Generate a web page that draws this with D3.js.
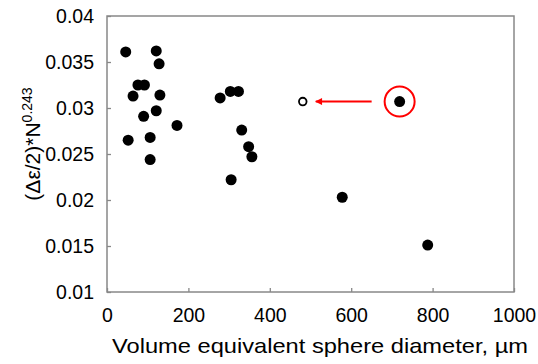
<!DOCTYPE html>
<html>
<head>
<meta charset="utf-8">
<script src="https://cdn.jsdelivr.net/npm/d3@7"></script>
<style>
  body { margin: 0; background: #fff; }
  svg { display: block; font-family: "Liberation Sans", Arial, sans-serif; }
</style>
</head>
<body>
<div id="chart"></div>
<script>
// measured points: sphere diameter (µm) vs (Δε/2)*N^0.243
const diameters = [46, 121, 128, 76, 92, 64, 130, 90, 121, 172, 52, 106, 106,
                   278, 303, 323, 331, 348, 356, 305, 578, 788]
const amplitudes = [0.0361, 0.0362, 0.0348, 0.0325, 0.0325, 0.0313, 0.0314, 0.0291, 0.0297, 0.0281, 0.0265, 0.0268, 0.0244,
                    0.0311, 0.0318, 0.0318, 0.0276, 0.0258, 0.0247, 0.0222, 0.0203, 0.0151]
// the highlighted specimen and where it moves to
const movedFrom = [719, 0.0307]
const movedTo = [481, 0.0307]

const xTicks = [0, 200, 400, 600, 800, 1000]
const yTicks = [0.01, 0.015, 0.02, 0.025, 0.03, 0.035, 0.04]

const width = 538, height = 364
const margin = {top: 16, right: 24, bottom: 72, left: 107}

const svg = d3.select('#chart').append('svg')
    .attr('width', width)
    .attr('height', height)

const x = d3.scaleLinear().domain([0, 1000]).range([margin.left, width - margin.right])
const y = d3.scaleLinear().domain([0.01, 0.04]).range([height - margin.bottom, margin.top])

const xAxis = d3.axisBottom(x).tickValues(xTicks).tickSize(-4).tickPadding(16).tickFormat(d3.format('d'))
const yAxis = d3.axisLeft(y).tickValues(yTicks).tickSize(-4).tickPadding(13).tickFormat(d => d3.format('')(d))

const gx = svg.append('g')
    .attr('transform', `translate(0, ${height - margin.bottom})`)
    .call(xAxis)
gx.select('.domain').remove()
gx.selectAll('line').attr('stroke', '#888').attr('stroke-width', 1.3)
gx.selectAll('text').style('font-size', '19.5px').attr('fill', '#000')

const gy = svg.append('g')
    .attr('transform', `translate(${margin.left}, 0)`)
    .call(yAxis)
gy.select('.domain').remove()
gy.selectAll('line').attr('stroke', '#888').attr('stroke-width', 1.3)
gy.selectAll('text').style('font-size', '19.5px').attr('fill', '#000')

// frame
svg.append('rect')
    .attr('x', x(0))
    .attr('y', y(0.04))
    .attr('width', x(1000) - x(0))
    .attr('height', y(0.01) - y(0.04))
    .attr('fill', 'none')
    .attr('stroke', '#888')
    .attr('stroke-width', 1.5)

// axis titles
svg.append('text')
    .attr('x', 112)
    .attr('y', 353)
    .attr('textLength', 416)
    .attr('lengthAdjust', 'spacingAndGlyphs')
    .style('font-size', '21px')
    .text('Volume equivalent sphere diameter, µm')

const yTitle = svg.append('text')
    .attr('transform', `translate(40, 144) rotate(-90)`)
    .attr('text-anchor', 'middle')
    .style('font-size', '21px')
yTitle.append('tspan').text('(Δε/2)*N')
yTitle.append('tspan').attr('dy', -8).style('font-size', '14px').text('0.243')

// points
const data = diameters.map((d, i) => ({d: d, a: amplitudes[i]}))
svg.append('g').selectAll('circle')
    .data(data)
    .enter()
    .append('circle')
    .attr('cx', d => x(d.d))
    .attr('cy', d => y(d.a))
    .attr('r', 5.5)
    .attr('fill', '#000')

// highlighted point, ring and arrow
svg.append('circle')
    .attr('cx', x(movedFrom[0])).attr('cy', y(movedFrom[1]))
    .attr('r', 5.5).attr('fill', '#000')
svg.append('circle')
    .attr('cx', x(movedFrom[0])).attr('cy', y(movedFrom[1]))
    .attr('r', 15).attr('fill', 'none').attr('stroke', '#f00').attr('stroke-width', 2)
svg.append('circle')
    .attr('cx', x(movedTo[0])).attr('cy', y(movedTo[1]))
    .attr('r', 3.8).attr('fill', '#fff').attr('stroke', '#000').attr('stroke-width', 1.8)

svg.append('defs').append('marker')
    .attr('id', 'head')
    .attr('viewBox', '0 0 10 10')
    .attr('refX', 9).attr('refY', 5)
    .attr('markerWidth', 8).attr('markerHeight', 7)
    .attr('markerUnits', 'userSpaceOnUse')
    .attr('orient', 'auto')
    .append('path')
    .attr('d', 'M10,5 L0,0 L0,10 Z')
    .attr('fill', '#f00')

svg.append('line')
    .attr('x1', x(movedFrom[0]) - 28).attr('y1', y(movedFrom[1]))
    .attr('x2', x(movedTo[0]) + 13).attr('y2', y(movedTo[1]))
    .attr('stroke', '#f00').attr('stroke-width', 2)
    .attr('marker-end', 'url(#head)')
</script>
</body>
</html>
